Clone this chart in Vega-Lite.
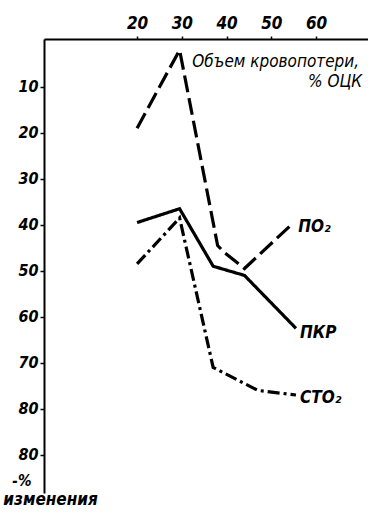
{
  "$schema": "https://vega.github.io/schema/vega-lite/v6.json",
  "width": 324,
  "height": 454,
  "autosize": {"type": "none"},
  "padding": {"left": 44, "top": 39, "right": 0, "bottom": 25},
  "background": "white",
  "config": {
    "view": {"stroke": null},
    "font": "DejaVu Sans Condensed"
  },
  "datasets": {
    "lines": [
      {"series": "ПО2", "x": 20, "y": 19},
      {"series": "ПО2", "x": 29.5, "y": 2},
      {"series": "ПО2", "x": 38, "y": 44.5},
      {"series": "ПО2", "x": 39.5, "y": 46},
      {"series": "ПО2", "x": 44, "y": 49.5},
      {"series": "ПО2", "x": 55, "y": 39.5},
      {"series": "ПКР", "x": 20, "y": 39.5},
      {"series": "ПКР", "x": 29.5, "y": 36.5},
      {"series": "ПКР", "x": 37, "y": 49},
      {"series": "ПКР", "x": 44, "y": 51},
      {"series": "ПКР", "x": 55.5, "y": 62.5},
      {"series": "СТО2", "x": 20, "y": 48.5},
      {"series": "СТО2", "x": 29.5, "y": 38.5},
      {"series": "СТО2", "x": 37, "y": 71},
      {"series": "СТО2", "x": 47, "y": 76},
      {"series": "СТО2", "x": 55.5, "y": 77}
    ],
    "labels": [
      {"text": "ПО₂", "x": 56, "y": 40.4, "kind": "series"},
      {"text": "ПКР", "x": 56.4, "y": 63.5, "kind": "series"},
      {"text": "СТО₂", "x": 56.4, "y": 77.6, "kind": "series"},
      {"text": "изменения", "x": -9.9, "y": 99.8, "kind": "series"},
      {"text": "Объем кровопотери,", "x": 32.3, "y": 4.6, "kind": "title"},
      {"text": "% ОЦК", "x": 58.2, "y": 8.9, "kind": "title"}
    ],
    "ylabel": [
      {"text": "-%", "x": -3.6, "y": 95.6}
    ]
  },
  "layer": [
    {
      "data": {"name": "lines"},
      "mark": {"type": "line", "color": "black", "strokeWidth": 3.2, "strokeJoin": "miter", "strokeCap": "butt"},
      "encoding": {
        "x": {
          "field": "x", "type": "quantitative",
          "scale": {"domain": [-0.8, 71.6], "nice": false, "zero": false},
          "axis": {
            "orient": "top", "values": [20, 30, 40, 50, 60], "title": null,
            "grid": false, "domainColor": "black", "domainWidth": 2,
            "tickColor": "black", "tickSize": 3, "tickWidth": 1.5,
            "labelFont": "DejaVu Sans Condensed", "labelFontSize": 17, "labelFontWeight": "bold",
            "labelFontStyle": "italic", "labelColor": "black", "labelPadding": 4
          }
        },
        "y": {
          "field": "y", "type": "quantitative",
          "scale": {"domain": [-0.4, 98.3], "nice": false, "zero": false, "reverse": true},
          "axis": {
            "orient": "left", "values": [10, 20, 30, 40, 50, 60, 70, 80, 90], "title": null,
            "labelExpr": "datum.value == 90 ? '80' : datum.label",
            "grid": false, "domainColor": "black", "domainWidth": 2,
            "tickColor": "black", "tickSize": 4, "tickWidth": 1.5,
            "labelFont": "DejaVu Sans Condensed", "labelFontSize": 16, "labelFontWeight": "bold",
            "labelFontStyle": "italic", "labelColor": "black", "labelPadding": 2
          }
        },
        "detail": {"field": "series"},
        "strokeDash": {
          "field": "series", "type": "nominal",
          "scale": {"domain": ["ПО2", "ПКР", "СТО2"], "range": [[17, 6], [1, 0], [12, 4, 3, 4]]},
          "legend": null
        }
      }
    },
    {
      "data": {"name": "labels"},
      "transform": [{"filter": "datum.kind == 'series'"}],
      "mark": {"type": "text", "color": "black", "fontStyle": "italic", "fontWeight": "bold", "align": "left", "baseline": "middle", "font": "DejaVu Sans Condensed", "fontSize": 17},
      "encoding": {
        "x": {"field": "x", "type": "quantitative"},
        "y": {"field": "y", "type": "quantitative"},
        "text": {"field": "text"}
      }
    },
    {
      "data": {"name": "labels"},
      "transform": [{"filter": "datum.kind == 'title'"}],
      "mark": {"type": "text", "color": "black", "fontStyle": "italic", "fontWeight": "normal", "align": "left", "baseline": "middle", "font": "DejaVu Sans Condensed", "fontSize": 17},
      "encoding": {
        "x": {"field": "x", "type": "quantitative"},
        "y": {"field": "y", "type": "quantitative"},
        "text": {"field": "text"}
      }
    },
    {
      "data": {"name": "ylabel"},
      "mark": {"type": "text", "color": "black", "fontStyle": "italic", "fontWeight": "bold", "align": "right", "baseline": "middle", "font": "DejaVu Sans Condensed", "fontSize": 15},
      "encoding": {
        "x": {"field": "x", "type": "quantitative"},
        "y": {"field": "y", "type": "quantitative"},
        "text": {"field": "text"}
      }
    }
  ]
}
